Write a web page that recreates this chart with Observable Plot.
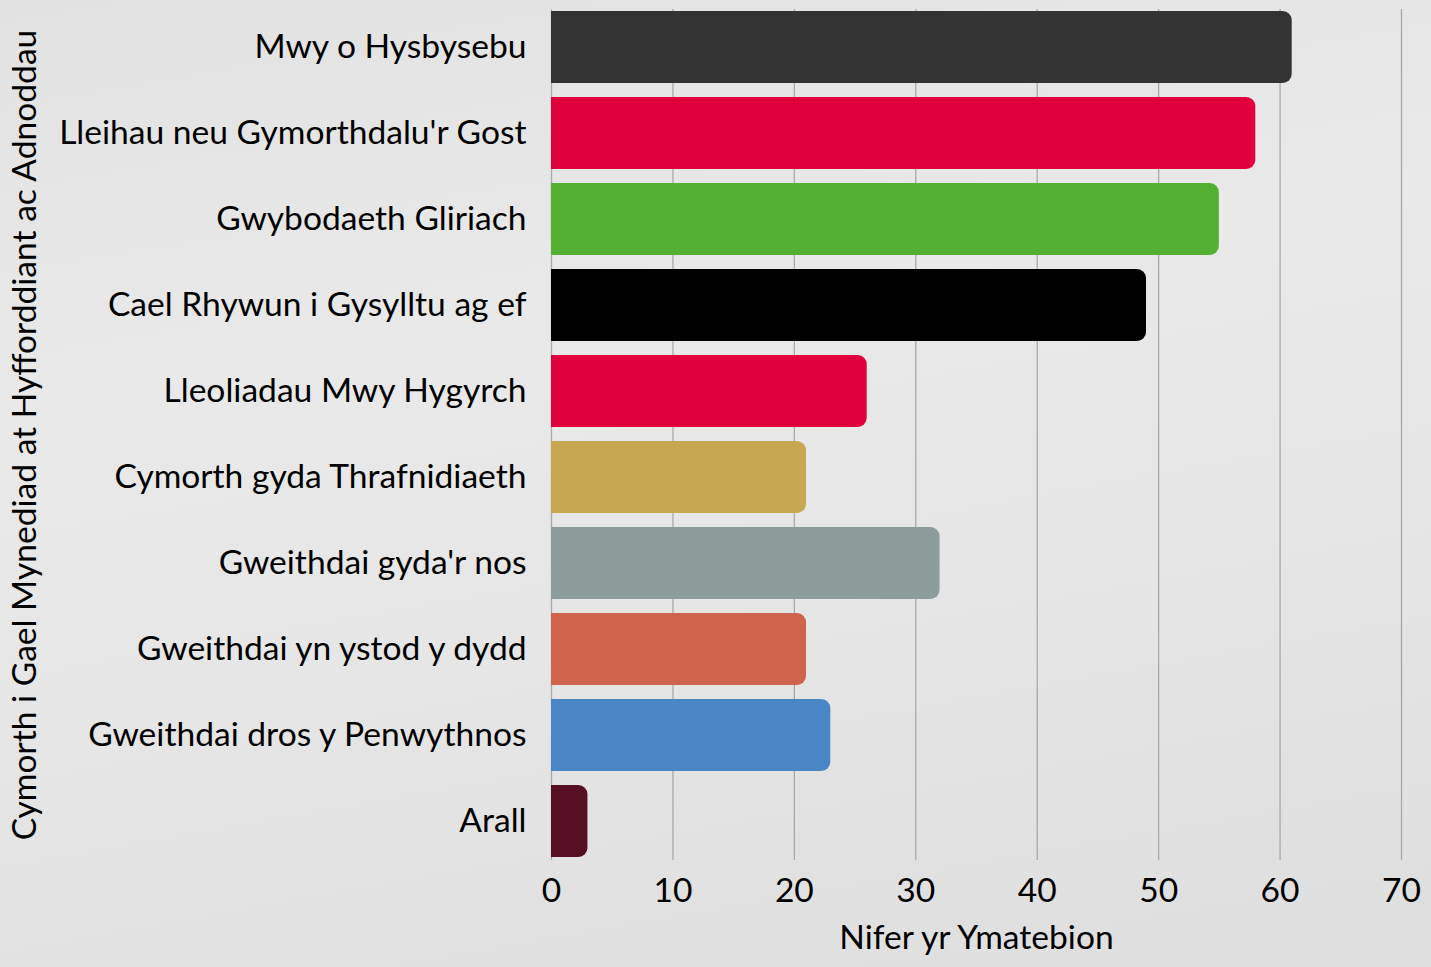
<!DOCTYPE html>
<html>
<head>
<meta charset="utf-8">
<script src="https://cdn.jsdelivr.net/npm/d3@7"></script>
<script src="https://cdn.jsdelivr.net/npm/@observablehq/plot@0.6"></script>
<style>
  html, body { margin: 0; padding: 0; background: #e4e4e4; }
  body { width: 1431px; height: 967px; overflow: hidden;
    background: linear-gradient(170deg, #e2e2e2 0%, #e9e9e9 35%, #e6e6e6 60%, #dedede 100%); }
  svg { display: block; background: transparent !important; }
</style>
</head>
<body>
<div id="chart"></div>
<script>
const categories = [
  "Mwy o Hysbysebu",
  "Lleihau neu Gymorthdalu'r Gost",
  "Gwybodaeth Gliriach",
  "Cael Rhywun i Gysylltu ag ef",
  "Lleoliadau Mwy Hygyrch",
  "Cymorth gyda Thrafnidiaeth",
  "Gweithdai gyda'r nos",
  "Gweithdai yn ystod y dydd",
  "Gweithdai dros y Penwythnos",
  "Arall"
];
const values = [61, 58, 55, 49, 26, 21, 32, 21, 23, 3];
const colors = ["#333333", "#e2003c", "#54b033", "#000000", "#e2003c", "#c8a752", "#8d9d9b", "#cd644b", "#4a86c5", "#560f23"];
const xTicks = [0, 10, 20, 30, 40, 50, 60, 70];
const xLabel = "Nifer yr Ymatebion";
const yLabel = "Cymorth i Gael Mynediad at Hyfforddiant ac Adnoddau";

const data = categories.map((c, i) => ({category: c, value: values[i], color: colors[i]}));

const FS = 33.6;
const chart = Plot.plot({
  width: 1431,
  height: 967,
  marginLeft: 551,
  marginRight: 30,
  marginTop: 9,
  marginBottom: 107,
  style: {fontFamily: "Lato", fontSize: FS + "px", color: "#000", background: "transparent"},
  x: {domain: [0, 70], ticks: xTicks},
  y: {domain: categories, paddingInner: 0.16, paddingOuter: 0},
  color: {type: "identity"},
  marks: [
    Plot.gridX(xTicks, {stroke: "#a9a9a9", strokeOpacity: 1, strokeWidth: 1.3}),
    Plot.barX(data, {y: "category", x: "value", fill: "color", rx: 9}),
    Plot.barX(data, {y: "category", x1: 0, x2: d => d.value / 2, fill: "color"}),
    Plot.axisX({ticks: xTicks, tickSize: 0, tickPadding: 18, fontSize: FS, label: null}),
    Plot.axisY({tickSize: 0, tickPadding: 25, fontSize: FS, label: null}),
    Plot.text([xLabel], {frameAnchor: "bottom", dy: 78, fontSize: FS, text: d => d, lineAnchor: "middle"}),
    Plot.text([yLabel], {frameAnchor: "left", dx: -526, rotate: -90, fontSize: FS, textAnchor: "middle", text: d => d})
  ]
});
document.getElementById("chart").appendChild(chart);
</script>
</body>
</html>
